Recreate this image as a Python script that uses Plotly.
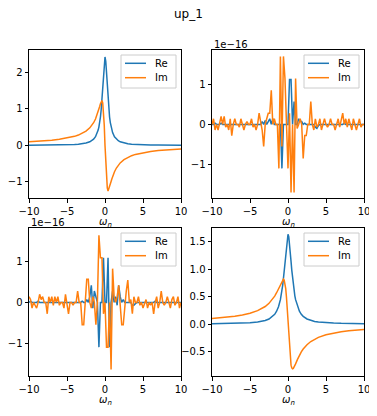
import plotly.graph_objects as go

# ---------------- data ----------------
x_smooth = [-10, -9, -8, -7, -6, -5, -4, -3.5, -3, -2.5, -2, -1.75, -1.5, -1.25, -1,
            -0.9, -0.8, -0.7, -0.6, -0.5, -0.4, -0.3, -0.2, -0.1, 0,
            0.1, 0.2, 0.3, 0.4, 0.5, 0.6, 0.7, 0.8, 0.9, 1,
            1.25, 1.5, 1.75, 2, 2.5, 3, 3.5, 4, 5, 6, 7, 8, 9, 10]

tl_re = [0.004, 0.005, 0.006, 0.008, 0.011, 0.016, 0.025, 0.033, 0.045, 0.064, 0.098, 0.127,
         0.170, 0.237, 0.351, 0.419, 0.507, 0.623, 0.776, 0.981, 1.250, 1.589, 1.970, 2.302,
         2.420,
         2.302, 1.970, 1.589, 1.250, 0.981, 0.776, 0.623, 0.507, 0.419, 0.351, 0.237, 0.170,
         0.127, 0.098, 0.064, 0.045, 0.033, 0.025, 0.016, 0.011, 0.008, 0.006, 0.005, 0.004]
tl_im = [0.100, 0.111, 0.125, 0.142, 0.166, 0.199, 0.247, 0.282, 0.327, 0.390, 0.480, 0.542,
         0.620, 0.722, 0.856, 0.920, 0.990, 1.064, 1.136, 1.196, 1.230, 1.162, 0.961, 0.562,
         0.0,
         -0.562, -0.961, -1.162, -1.250, -1.196, -1.136, -1.064, -0.990, -0.920, -0.856,
         -0.722, -0.620, -0.542, -0.480, -0.390, -0.327, -0.282, -0.247, -0.199, -0.166,
         -0.142, -0.125, -0.111, -0.100]

br_re = [0.006, 0.0075, 0.009, 0.012, 0.017, 0.024, 0.037, 0.048, 0.065, 0.092, 0.140, 0.178,
         0.233, 0.315, 0.445, 0.516, 0.603, 0.708, 0.833, 0.981, 1.146, 1.320, 1.480, 1.596,
         1.640,
         1.596, 1.480, 1.320, 1.146, 0.981, 0.833, 0.708, 0.603, 0.516, 0.445, 0.315, 0.233,
         0.178, 0.140, 0.092, 0.065, 0.048, 0.037, 0.024, 0.017, 0.012, 0.009, 0.0075, 0.006]
br_im = [0.100, 0.111, 0.124, 0.142, 0.165, 0.197, 0.244, 0.277, 0.320, 0.378, 0.457, 0.510,
         0.572, 0.646, 0.729, 0.761, 0.790, 0.812, 0.820, 0.804, 0.752, 0.649, 0.485, 0.262,
         0.0,
         -0.262, -0.485, -0.649, -0.752, -0.804, -0.820, -0.812, -0.790, -0.761, -0.729,
         -0.646, -0.572, -0.510, -0.457, -0.378, -0.320, -0.277, -0.244, -0.197, -0.165,
         -0.142, -0.124, -0.111, -0.100]

# noise panels: x = -10 .. 10 step 0.2, values in units of 1e-16
x_noise = [round(-10 + 0.2 * i, 1) for i in range(101)]

tr_re = [0, 0, 0.03, 0, 0, 0, 0.03, 0, 0, 0,
         0, 0, 0, 0, 0, 0, 0, 0, 0, 0,
         0, 0, 0, 0, 0, 0, 0, 0, 0, 0,
         0, 0, 0, 0.07, 0.0, 0.1, 0.0, 0.07, 0.14, 0.0,
         0.14, 0.0, 0.0, 0.0, 0.0, 0.0, -1.1, 0.0, 0.0, 0.0,
         0.0, 1.12, 1.12, 0.0, 0.57, 0.0, 0.0, 0.14, 0.07, 0.07,
         0.0, 0.03, 0.0, 0.0, 0.0, 0.0, 0.0, 0.0, -0.07, -0.1,
         -0.03, 0, 0, 0, 0, 0, 0, 0, 0, 0,
         0, 0, 0, 0, 0, 0, 0, 0.03, 0, 0,
         0, 0, 0, 0, 0, 0, 0, 0, 0, 0,
         0]
tr_im = [0.0, 0.14, -0.14, 0.0, -0.14, 0.0, 0.2, 0.0, 0.2, -0.07,
         0.0, -0.14, 0.14, -0.28, 0.0, 0.14, 0.0, 0.0, -0.07, 0.14,
         0.0, -0.14, 0.0, 0.07, 0.0, 0.0, 0.14, -0.07, 0.0, -0.14,
         0.0, 0.28, 0.07, -0.14, -0.55, 0.0, 0.14, 0.28, 0.28, 0.85,
         0.0, 0.14, 0.0, 0.0, -1.1, 1.7, -0.55, 1.7, 1.15, 0.0,
         -1.1, 0.28, -1.7, 0.0, -1.7, 1.15, -0.1, 0.0, 0.14, 0.0,
         -0.85, -0.28, -0.28, 0.0, 0.0, 0.57, 0.0, -0.14, 0.14, -0.07,
         0.0, 0.14, -0.14, 0.0, 0.14, 0.0, -0.07, 0.0, 0.14, 0.0,
         0.0, -0.14, 0.0, 0.14, -0.07, 0.14, 0.28, 0.0, 0.14, -0.07,
         0.14, 0.0, -0.14, 0.14, 0.0, -0.14, 0.0, 0.14, -0.07, 0.0,
         0.0]

bl_re = [0, 0.03, 0, 0, 0, 0, 0.03, 0, 0, 0,
         0, 0, 0, 0, 0, 0, 0, 0, 0, 0,
         0, 0, 0, 0, 0, 0, 0, 0, 0, 0,
         0, 0, 0, 0, 0, 0.03, 0, 0, 0.07, 0.0,
         0.14, 0.42, -0.14, 0.28, 0.14, 0.0, -1.1, 0.0, 0.0, 1.1,
         0.0, 0.0, 1.1, -1.1, 0.0, 0.28, 0.0, 0.14, -0.07, 0.42,
         0.14, 0.0, 0.07, 0.0, 0.0, 0.0, 0.0, 0.0, -0.07, -0.07,
         -0.03, 0, 0, 0, 0, 0, 0, 0, 0, 0,
         0, 0, 0, 0.03, 0, 0, 0, 0, 0, 0,
         0, 0, 0, 0, 0, 0, 0, 0, 0, 0,
         0]
bl_im = [0.14, 0.07, -0.14, 0.0, -0.07, -0.14, 0.0, 0.2, 0.07, 0.14,
         0.0, 0.0, -0.28, 0.14, 0.0, 0.14, -0.07, 0.14, 0.0, 0.14,
         -0.07, 0.0, 0.0, -0.14, 0.2, 0.0, -0.28, 0.0, 0.0, -0.07,
         0.0, 0.0, 0.28, 0.0, 0.0, -0.55, -0.55, 0.0, 0.57, 0.57,
         0.0, -0.14, 0.14, 0.0, -0.55, 0.0, 1.65, 1.1, 1.1, -0.28,
         0.0, -1.1, -1.1, 0.0, -1.65, 0.83, 0.14, 0.0, 0.14, 0.42,
         0.0, -0.55, -0.55, 0.0, 0.28, 0.55, 0.0, 0.07, -0.28, 0.14,
         0.0, 0.0, 0.14, -0.07, 0.0, -0.14, 0.0, 0.07, -0.14, 0.0,
         -0.07, 0.0, -0.28, 0.0, 0.14, -0.14, 0.0, 0.28, 0.0, -0.07,
         0.0, 0.14, 0.0, -0.14, 0.07, 0.14, -0.07, 0.0, 0.14, -0.14,
         0.0]

x_ticks = [-10, -5, 0, 5, 10]
series_names = ["Re", "Im"]
title_text = "up_1"
offset_text = "1e\u221216"

# ---------------- figure ----------------
OFF = 8                      # default page margin of the html body
W, H = 377 - OFF, 416 - OFF
BLUE, ORANGE = "#1f77b4", "#ff7f0e"
FONT = "DejaVu Sans"

def PX(px):
    return (px - OFF) / W

def PY(py):
    return 1 - (py - OFF) / H

# panel pixel boxes in screen px: (left, right, top, bottom)
boxes = [(29, 181, 50, 198), (212, 364, 50, 198), (29, 181, 228, 376), (212, 364, 228, 376)]
yranges = [[-1.44, 2.61], [-1.84, 1.86], [-1.81, 1.83], [-0.95, 1.755]]
yticks = [[-1, 0, 1, 2], [-1, 0, 1], [-1, 0, 1], [-0.5, 0.0, 0.5, 1.0, 1.5]]
yfmt = ["d", "d", "d", ".1f"]
panels = [(x_smooth, tl_re, tl_im), (x_noise, tr_re, tr_im),
          (x_noise, bl_re, bl_im), (x_smooth, br_re, br_im)]

fig = go.Figure()
layout = dict(width=W, height=H, autosize=False, margin=dict(l=0, r=0, t=0, b=0, pad=0),
              paper_bgcolor="white", plot_bgcolor="white", showlegend=False,
              font=dict(family=FONT, size=10, color="black"))
shapes, annos = [], []

for k, ((l, r, t, b), (xs, re, im)) in enumerate(zip(boxes, panels)):
    sfx = "" if k == 0 else str(k + 1)
    fig.add_trace(go.Scatter(x=xs, y=re, mode="lines", name=series_names[0],
                             line=dict(color=BLUE, width=1.5), xaxis="x" + sfx, yaxis="y" + sfx))
    fig.add_trace(go.Scatter(x=xs, y=im, mode="lines", name=series_names[1],
                             line=dict(color=ORANGE, width=1.5), xaxis="x" + sfx, yaxis="y" + sfx))
    common = dict(showline=True, linecolor="black", linewidth=1, mirror=True,
                  ticks="outside", ticklen=3.5, tickwidth=0.8, tickcolor="black",
                  showgrid=False, zeroline=False, automargin=False,
                  tickfont=dict(family=FONT, size=10, color="black"))
    layout["xaxis" + sfx] = dict(domain=[PX(l), PX(r)], anchor="y" + sfx, range=[-10, 10],
                                 tickmode="array", tickvals=x_ticks, **common)
    layout["yaxis" + sfx] = dict(domain=[PY(b), PY(t)], anchor="x" + sfx, range=yranges[k],
                                 tickmode="array", tickvals=yticks[k], tickformat=yfmt[k], **common)
    # x label
    annos.append(dict(x=PX((l + r) / 2), y=PY(b + 24), xref="paper", yref="paper",
                      text="<i>ω</i><sub><i>n</i></sub>", showarrow=False,
                      font=dict(family=FONT, size=10), xanchor="center", yanchor="middle"))
    # legend box
    shapes.append(dict(type="rect", xref="paper", yref="paper",
                       x0=PX(r - 60), x1=PX(r - 5), y0=PY(t + 38), y1=PY(t + 5),
                       line=dict(color="#cccccc", width=1), fillcolor="rgba(255,255,255,0.8)",
                       layer="above"))
    for j, (nm, col) in enumerate(zip(series_names, [BLUE, ORANGE])):
        yy = t + 13.3 + 14.4 * j
        shapes.append(dict(type="line", xref="paper", yref="paper",
                           x0=PX(r - 56), x1=PX(r - 35), y0=PY(yy), y1=PY(yy),
                           line=dict(color=col, width=1.5), layer="above"))
        annos.append(dict(x=PX(r - 28), y=PY(yy), xref="paper", yref="paper", text=nm,
                          showarrow=False, xanchor="left", yanchor="middle",
                          font=dict(family=FONT, size=10)))

# offset texts for the 1e-16 panels
for k in (1, 2):
    l, r, t, b = boxes[k]
    annos.append(dict(x=PX(l), y=PY(t - 6), xref="paper", yref="paper", text=offset_text,
                      showarrow=False, xanchor="left", yanchor="middle",
                      font=dict(family=FONT, size=10)))

annos.append(dict(x=PX(188), y=PY(14), xref="paper", yref="paper", text=title_text,
                  showarrow=False, xanchor="center", yanchor="middle",
                  font=dict(family=FONT, size=12)))

layout["shapes"] = shapes
layout["annotations"] = annos
fig.update_layout(**layout)
fig.write_html("out.html")
